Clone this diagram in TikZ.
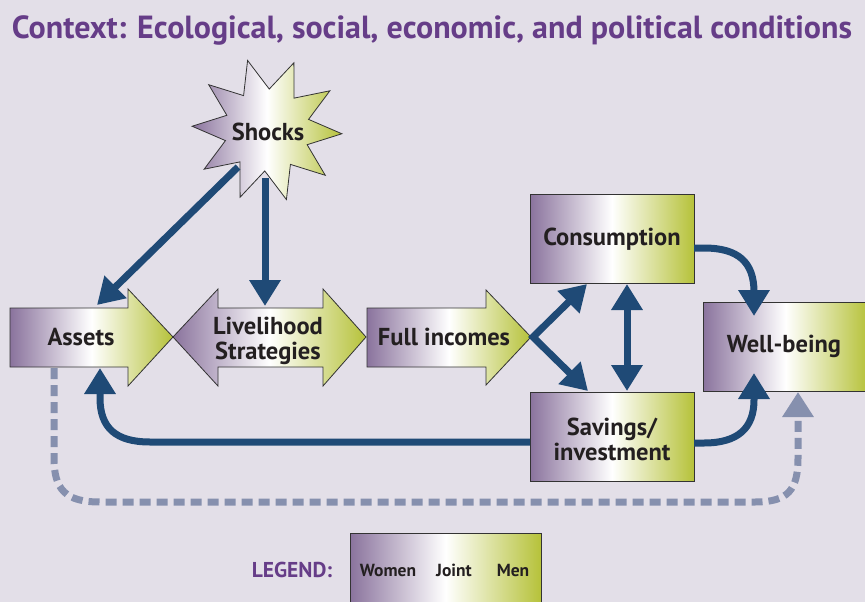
\documentclass[tikz,border=0pt]{standalone}
\usepackage{fontspec}
\setmainfont{PT Sans}
\usetikzlibrary{arrows.meta}
\definecolor{bg}{HTML}{E3DFE8}
\definecolor{ttl}{HTML}{663D88}
\definecolor{dblue}{HTML}{1F4A76}
\definecolor{dgray}{HTML}{8690AE}
\definecolor{wpurple}{HTML}{8A739D}
\definecolor{mgreen}{HTML}{B6C23A}
\definecolor{txt}{HTML}{231F20}
\tikzset{
  genderfill/.style={left color=wpurple, right color=mgreen, middle color=white, draw=black!80, line width=0.8pt},
  lbl/.style={font=\bfseries\fontsize{24.5}{25}\selectfont, text=txt, align=center, inner sep=0pt},
  flow/.style={draw=dblue, line width=7pt, -{Triangle[width=30pt,length=26pt]}},
  flowboth/.style={draw=dblue, line width=7pt, {Triangle[width=30pt,length=26pt]}-{Triangle[width=30pt,length=26pt]}},
  dashflow/.style={draw=dgray, line width=7pt, dash pattern=on 11pt off 6pt, -{Triangle[width=30pt,length=25pt]}},
  legtxt/.style={font=\bfseries\fontsize{17.5}{19}\selectfont, text=txt, inner sep=0pt}
}
\begin{document}
\begin{tikzpicture}[x=1pt,y=-1pt]
\useasboundingbox (0,0) rectangle (865,602);
\fill[bg] (0,0) rectangle (865,602);
% title
\node[font=\bfseries\fontsize{32}{34}\selectfont, text=ttl, inner sep=0pt] (title) at (432,30) {Context: Ecological, social, economic, and political conditions};
% star
\shade[genderfill] plot[samples at={0,...,19}, variable=\k] ({267+ifthenelse(mod(\k,2)==0,75,43)*cos(105+18*\k)},{130-ifthenelse(mod(\k,2)==0,72,41)*sin(105+18*\k)}) -- cycle;
\node[lbl] (shocks) at (268,132) {Shocks};
% Assets arrow
\shade[genderfill] (10,308) -- (128,308) -- (128,289) -- (173,337) -- (128,386) -- (128,367) -- (10,367) -- cycle;
\node[lbl] (assets) at (81,337) {Assets};
% Livelihood
\shade[genderfill] (173,337) -- (218,289) -- (218,308) -- (323,308) -- (323,289) -- (366,337) -- (323,386) -- (323,367) -- (218,367) -- (218,386) -- cycle;
\node[lbl] (liv) at (268,341) {Livelihood\\Strategies};
% Full incomes
\shade[genderfill] (367,308) -- (486,308) -- (486,290) -- (531,337) -- (486,385) -- (486,367) -- (367,367) -- cycle;
\node[lbl] (full) at (444,337) {Full incomes};
% boxes
\shade[genderfill] (530,194) rectangle (694,283);
\node[lbl] (cons) at (612,239) {Consumption};
\shade[genderfill] (530,392) rectangle (694,481);
\node[lbl] (sav) at (612,439) {Savings/\\investment};
\shade[genderfill] (703,302) rectangle (868,391);
\node[lbl] (well) at (784,346) {Well-being};
% connector coordinates
\coordinate (shA) at (238,167);
\coordinate (assetsIn) at (97,305);
\coordinate (shB) at (265,178);
\coordinate (livIn) at (265,306);
\coordinate (fullTip) at (533,337);
\coordinate (consIn) at (587,284);
\coordinate (savIn) at (588,391);
\coordinate (consBot) at (627,284);
\coordinate (savTop) at (627,391);
\coordinate (consOut) at (694,248);
\coordinate (wellTop) at (754,316);
\coordinate (savOut) at (694,443);
\coordinate (wellBot) at (754,373);
\coordinate (savLeft) at (530,442);
\coordinate (assetsBot) at (100,368);
\coordinate (assetsDash) at (54,368);
\coordinate (wellDash) at (798,392);
% connectors
\draw[flow] (shA) -- (assetsIn);
\draw[flow] (shB) -- (livIn);
\draw[flowboth, line join=miter] (consIn) -- (fullTip) -- (savIn);
\draw[flowboth] (consBot) -- (savTop);
\draw[flow] (consOut) -- ++(10,0) .. controls (738,248) and (754,262) .. (754,292) -- (wellTop);
\draw[flow] (savOut) -- ++(10,0) .. controls (738,443) and (754,428) .. (754,400) -- (wellBot);
\draw[flow] (savLeft) -- (150,442) .. controls (116,442) and (100,428) .. (100,398) -- (assetsBot);
\draw[dashflow] (assetsDash) -- (54,458) .. controls (54,490) and (66,502) .. (100,502) -- (755,502) .. controls (788,502) and (798,490) .. (798,458) -- (wellDash);
% legend
\node[font=\bfseries\fontsize{21.5}{23}\selectfont, text=ttl, inner sep=0pt] (legend) at (292,570) {LEGEND:};
\shade[genderfill] (350,533) rectangle (541,615);
\node[legtxt] (women) at (388,570) {Women};
\node[legtxt] (joint) at (454,570) {Joint};
\node[legtxt] (men) at (513,570) {Men};
\end{tikzpicture}
\end{document}
